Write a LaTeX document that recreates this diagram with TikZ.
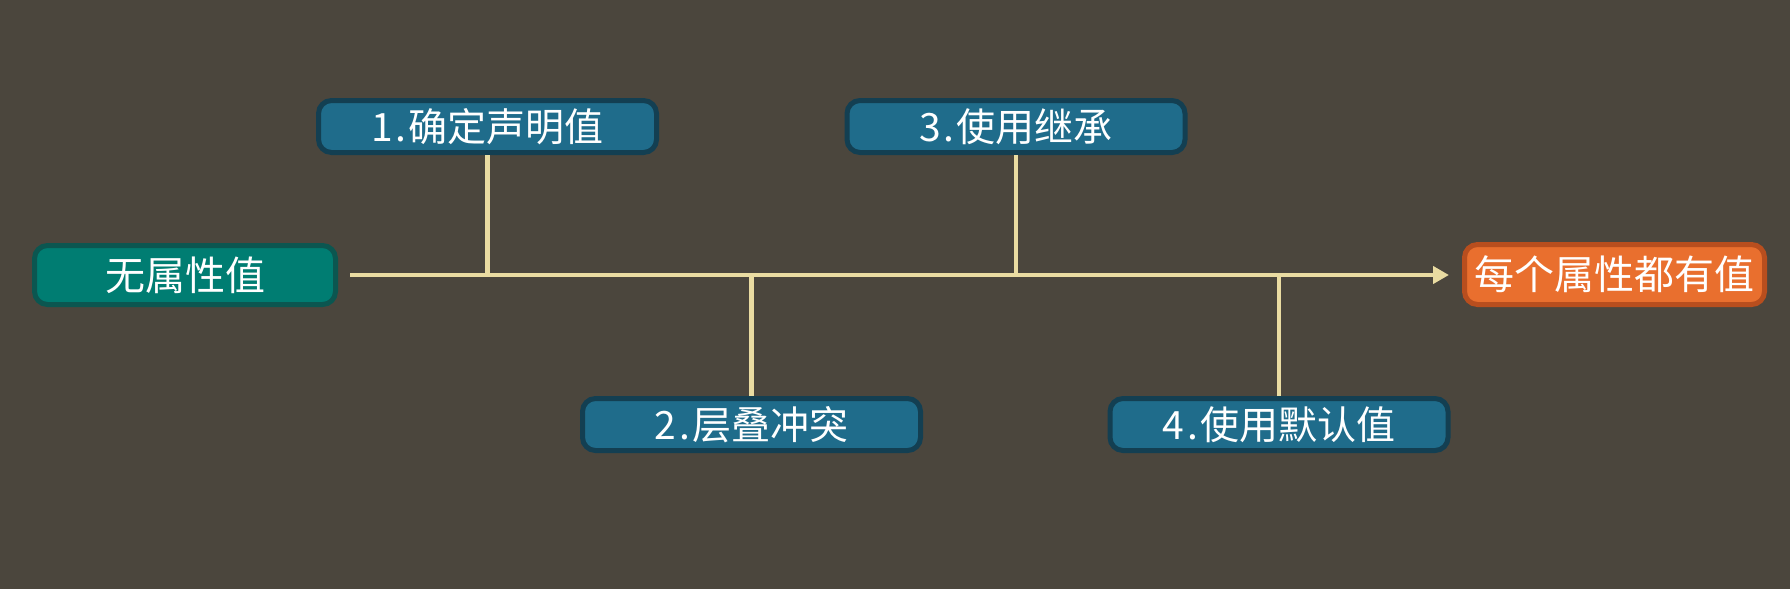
\documentclass[tikz,border=0pt]{standalone}
\usepackage{fontspec}
\setmainfont{Noto Sans CJK SC}
\usetikzlibrary{arrows.meta}
\definecolor{bgc}{HTML}{4B463D}
\definecolor{tealf}{HTML}{007D72}
\definecolor{teald}{HTML}{0B5650}
\definecolor{bluef}{HTML}{1F6C8B}
\definecolor{blued}{HTML}{133F52}
\definecolor{orf}{HTML}{E96F2E}
\definecolor{ord}{HTML}{B84E1E}
\definecolor{linec}{HTML}{EADCA2}
\newcommand{\numlab}[2]{#1\hspace{3pt}.\hspace{2pt}#2}
\begin{document}
\begin{tikzpicture}[x=1pt,y=-1pt,
  base/.style={rounded corners=13pt, line width=5pt, text=white, font=\fontsize{40}{42}\selectfont, inner sep=0pt, align=center},
  startbox/.style={base, fill=tealf, draw=teald, minimum width=301pt, minimum height=59pt},
  endbox/.style={base, fill=orf, draw=ord, minimum width=300pt, minimum height=60pt},
  stepbox/.style={base, fill=bluef, draw=blued, minimum width=338pt, minimum height=52pt, font=\fontsize{39}{42}\selectfont},
  conn/.style={draw=linec, line width=4.5pt}
]
\useasboundingbox (0,0) rectangle (1790,589);
\fill[bgc] (0,0) rectangle (1790,589);
\node[startbox] (start) at (185,275) {无属性值};
\node[endbox] (end) at (1614.5,274.5) {每个属性都有值};
\node[stepbox] (s1) at (487.5,126.5) {\numlab{1}{确定声明值}};
\node[stepbox] (s3) at (1016,126.5) {\numlab{3}{使用继承}};
\node[stepbox] (s2) at (751.5,424.5) {\numlab{2}{层叠冲突}};
\node[stepbox] (s4) at (1279,424.5) {\numlab{4}{使用默认值}};
\coordinate (a) at (350,275);
\coordinate (b) at (1449,275);
\coordinate (j1) at (487.5,275);
\coordinate (j3) at (1016,275);
\coordinate (j2) at (751.5,275);
\coordinate (j4) at (1279,275);
\draw[conn, -{Triangle[length=16pt,width=17pt]}] (a) -- (b);
\draw[conn] (s1.south) -- (j1);
\draw[conn] (s3.south) -- (j3);
\draw[conn] (s2.north) -- (j2);
\draw[conn] (s4.north) -- (j4);
\end{tikzpicture}
\end{document}
